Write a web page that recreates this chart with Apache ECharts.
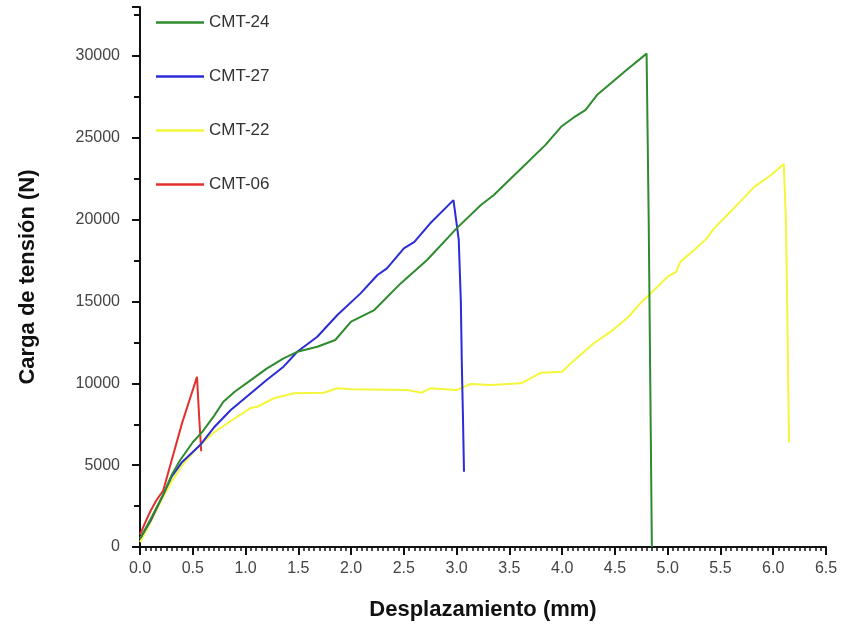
<!DOCTYPE html>
<html>
<head>
<meta charset="utf-8">
<script src="https://cdn.jsdelivr.net/npm/echarts@6/dist/echarts.min.js"></script>
<style>
  html, body { margin: 0; padding: 0; background: #fff; }
  #chart { width: 843px; height: 630px; }
</style>
</head>
<body>
<div id="chart"></div>
<script>
// datos: [desplazamiento mm, carga N]
const cmt24 = [
  [0, 500], [0.1, 1700], [0.22, 3200], [0.3, 4400], [0.38, 5300], [0.5, 6400],
  [0.59, 7040], [0.7, 8000], [0.79, 8880], [0.9, 9500], [1.05, 10200], [1.2, 10900],
  [1.36, 11530], [1.49, 11930], [1.68, 12240], [1.85, 12650], [2.0, 13770],
  [2.22, 14480], [2.47, 16110], [2.72, 17540], [3.0, 19470], [3.23, 20900],
  [3.35, 21500], [3.58, 22930], [3.84, 24560], [3.99, 25680], [4.11, 26250],
  [4.22, 26700], [4.33, 27620], [4.59, 29040], [4.8, 30150],
  [4.82, 20000], [4.835, 10000], [4.85, 0]
];
const cmt27 = [
  [0, 500], [0.1, 1600], [0.22, 3200], [0.3, 4300], [0.4, 5200], [0.57, 6230],
  [0.7, 7300], [0.86, 8370], [1.05, 9390], [1.2, 10200], [1.36, 11020],
  [1.49, 11930], [1.68, 12850], [1.87, 14180], [2.09, 15500], [2.25, 16620],
  [2.34, 17030], [2.5, 18250], [2.6, 18650], [2.75, 19780], [2.97, 21200],
  [3.02, 18800], [3.04, 15000], [3.05, 11000], [3.06, 8000], [3.07, 4600]
];
const cmt22 = [
  [0, 300], [0.1, 1500], [0.22, 3070], [0.3, 4000], [0.4, 5000], [0.5, 5750],
  [0.57, 6230], [0.7, 7000], [0.86, 7700], [1.05, 8500], [1.11, 8570],
  [1.27, 9090], [1.46, 9390], [1.74, 9430], [1.87, 9700], [2.0, 9640],
  [2.53, 9590], [2.67, 9430], [2.75, 9700], [3.0, 9590], [3.13, 9960],
  [3.32, 9900], [3.61, 10000], [3.67, 10200], [3.8, 10650], [4.0, 10710],
  [4.08, 11220], [4.3, 12450], [4.46, 13160], [4.63, 14070], [4.74, 14890],
  [4.84, 15500], [5.0, 16520], [5.08, 16820], [5.12, 17430], [5.25, 18150],
  [5.37, 18860], [5.44, 19470], [5.61, 20590], [5.82, 22010], [5.98, 22730],
  [6.1, 23400], [6.12, 20000], [6.13, 16000], [6.14, 11000], [6.15, 6400]
];
const cmt06 = [
  [0, 750], [0.05, 1500], [0.1, 2200], [0.15, 2800], [0.22, 3450], [0.3, 5300],
  [0.4, 7600], [0.48, 9200], [0.54, 10400], [0.56, 8000], [0.58, 5850]
];

const names = ['CMT-24', 'CMT-27', 'CMT-22', 'CMT-06'];
const colors = ['#2e8b2e', '#2b2bd9', '#f5f53a', '#e3302c'];
const curves = [cmt24, cmt27, cmt22, cmt06];

const myChart = echarts.init(document.getElementById('chart'));

const option = {
  animation: false,
  backgroundColor: '#fff',
  grid: { left: 140, right: 17, top: 7, bottom: 83 },
  legend: {
    orient: 'vertical',
    left: 151,
    top: 9,
    icon: 'rect',
    itemWidth: 48,
    itemHeight: 2.5,
    itemGap: 37,
    textStyle: { fontFamily: 'Liberation Sans, Arial', fontSize: 17, color: '#333' },
    data: names
  },
  xAxis: {
    type: 'value',
    min: 0,
    max: 6.5,
    interval: 0.5,
    name: 'Desplazamiento (mm)',
    nameLocation: 'middle',
    nameGap: 52,
    nameTextStyle: { fontFamily: 'Liberation Sans, Arial', fontSize: 22, fontWeight: 'bold', color: '#111' },
    axisLine: { lineStyle: { color: '#111', width: 2 } },
    axisTick: { length: 8, lineStyle: { color: '#111', width: 2 } },
    minorTick: { show: true, splitNumber: 10, length: 4, lineStyle: { color: '#111', width: 1.5 } },
    axisLabel: {
      margin: 14,
      fontFamily: 'Liberation Sans Narrow, Liberation Sans, Arial',
      fontSize: 16,
      color: '#444',
      formatter: v => v.toFixed(1)
    },
    splitLine: { show: false }
  },
  yAxis: {
    type: 'value',
    min: 0,
    max: 33000,
    interval: 5000,
    name: 'Carga de tensión (N)',
    nameLocation: 'middle',
    nameGap: 101,
    nameTextStyle: { fontFamily: 'Liberation Sans, Arial', fontSize: 22, fontWeight: 'bold', color: '#111' },
    axisLine: { show: true, lineStyle: { color: '#111', width: 2 } },
    axisTick: { show: true, length: 8, lineStyle: { color: '#111', width: 2 } },
    minorTick: { show: true, splitNumber: 2, length: 6, lineStyle: { color: '#111', width: 2 } },
    axisLabel: {
      margin: 20,
      fontFamily: 'Liberation Sans, Arial',
      fontSize: 16,
      color: '#444',
      formatter: v => (v % 5000 === 0 ? String(v) : '')
    },
    splitLine: { show: false }
  },
  series: curves.map((d, i) => ({
    name: names[i],
    type: 'line',
    data: d,
    symbol: 'none',
    lineStyle: { color: colors[i], width: 2 },
    itemStyle: { color: colors[i] },
    z: 10 - i
  }))
};

option && myChart.setOption(option);
</script>
</body>
</html>
